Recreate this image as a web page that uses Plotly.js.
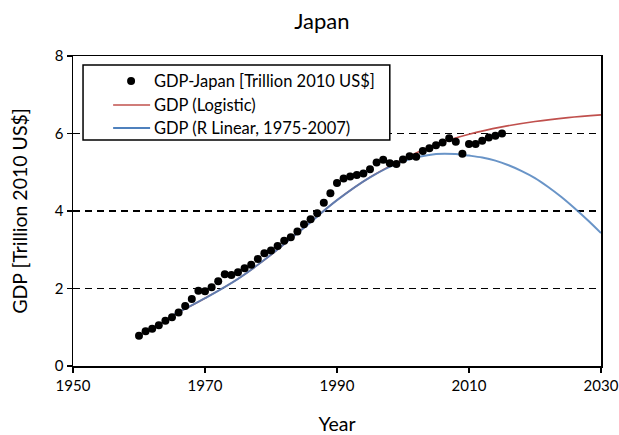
<!DOCTYPE html>
<html>
<head>
<meta charset="utf-8">
<script src="https://cdn.plot.ly/plotly-3.0.1.min.js"></script>
<style>
  html, body { margin: 0; padding: 0; background: #ffffff; }
  #chart { width: 619px; height: 435px; }
</style>
</head>
<body>
<div id="chart"></div>
<script>
// Observed Japanese GDP, trillion 2010 US$
const years = [1960, 1961, 1962, 1963, 1964, 1965, 1966, 1967, 1968, 1969,
               1970, 1971, 1972, 1973, 1974, 1975, 1976, 1977, 1978, 1979,
               1980, 1981, 1982, 1983, 1984, 1985, 1986, 1987, 1988, 1989,
               1990, 1991, 1992, 1993, 1994, 1995, 1996, 1997, 1998, 1999,
               2000, 2001, 2002, 2003, 2004, 2005, 2006, 2007, 2008, 2009,
               2010, 2011, 2012, 2013, 2014, 2015];
const gdp = [0.78, 0.90, 0.96, 1.05, 1.17, 1.26, 1.38, 1.55, 1.73, 1.94,
             1.93, 2.03, 2.19, 2.37, 2.35, 2.42, 2.52, 2.61, 2.76, 2.91,
             2.98, 3.10, 3.23, 3.32, 3.47, 3.66, 3.79, 3.94, 4.21, 4.46,
             4.72, 4.84, 4.89, 4.93, 4.97, 5.08, 5.25, 5.32, 5.23, 5.21,
             5.33, 5.41, 5.40, 5.55, 5.62, 5.70, 5.77, 5.88, 5.79, 5.48,
             5.73, 5.73, 5.81, 5.90, 5.94, 6.00];

// Logistic model curve
const logisticYears = [1965, 1970, 1975, 1980, 1985, 1990, 1995, 2000, 2005, 2010, 2015, 2020, 2025, 2030];
const gdpLogistic   = [1.30, 1.75, 2.25, 2.87, 3.57, 4.28, 4.87, 5.33, 5.72, 5.98, 6.17, 6.31, 6.41, 6.48];

// R-linear model curve (fit on 1975-2007)
const rLinearYears = [1965, 1970, 1975, 1980, 1985, 1990, 1995, 2000, 2005, 2008, 2010,
                      2012, 2014, 2016, 2018, 2020, 2022, 2024, 2026, 2028, 2030];
const gdpRLinear   = [1.30, 1.75, 2.25, 2.87, 3.57, 4.28, 4.87, 5.28, 5.47, 5.47, 5.43,
                      5.38, 5.30, 5.18, 5.03, 4.85, 4.62, 4.36, 4.07, 3.76, 3.43];

const seriesNames = ['GDP-Japan [Trillion 2010 US$]', 'GDP (Logistic)', 'GDP (R Linear, 1975-2007)'];
const xTicks = [1950, 1970, 1990, 2010, 2030];
const yTicks = [0, 2, 4, 6, 8];

const RED = '#c0504d';
const BLUE = '#4f81bd';
const FONT = 'Lato, "Open Sans", sans-serif';

const traces = [
  {
    x: logisticYears, y: gdpLogistic, name: seriesNames[1],
    type: 'scatter', mode: 'lines',
    line: { color: RED, width: 1.6, shape: 'spline' },
    showlegend: false, hoverinfo: 'skip'
  },
  {
    x: rLinearYears, y: gdpRLinear, name: seriesNames[2],
    type: 'scatter', mode: 'lines',
    line: { color: BLUE, width: 2, shape: 'spline' },
    opacity: 0.85,
    showlegend: false, hoverinfo: 'skip'
  },
  {
    x: years, y: gdp, name: seriesNames[0],
    type: 'scatter', mode: 'markers',
    marker: { color: '#000000', size: 8 },
    showlegend: false
  }
];

// Legend box drawn in paper coordinates
const lgX0 = 0.019, lgX1 = 0.600, lgTop = 0.971, lgBot = 0.729;
const rowY = [0.919, 0.842, 0.768];
const symX0 = 0.076, symX1 = 0.146, dotX = 0.110, textX = 0.150;

const shapes = [
  { type: 'rect', xref: 'paper', yref: 'paper', x0: lgX0, x1: lgX1, y0: lgBot, y1: lgTop,
    line: { color: '#000000', width: 1.5 }, fillcolor: '#ffffff', layer: 'above' },
  { type: 'circle', xref: 'paper', yref: 'paper', xsizemode: 'pixel', ysizemode: 'pixel',
    xanchor: dotX, yanchor: rowY[0], x0: -4, x1: 4, y0: -4, y1: 4,
    fillcolor: '#000000', line: { width: 0 }, layer: 'above' },
  { type: 'line', xref: 'paper', yref: 'paper', x0: symX0, x1: symX1, y0: rowY[1], y1: rowY[1],
    line: { color: RED, width: 1.6 }, layer: 'above' },
  { type: 'line', xref: 'paper', yref: 'paper', x0: symX0, x1: symX1, y0: rowY[2], y1: rowY[2],
    line: { color: BLUE, width: 2 }, layer: 'above' }
];

const annotations = seriesNames.map((name, i) => ({
  xref: 'paper', yref: 'paper', x: textX, y: rowY[i],
  xanchor: 'left', yanchor: 'middle', showarrow: false,
  text: name, font: { family: FONT, size: 16.5, color: '#000000' }
}));

const layout = {
  width: 619, height: 435,
  margin: { l: 73, r: 18, t: 56, b: 69 },
  paper_bgcolor: '#ffffff', plot_bgcolor: '#ffffff',
  font: { family: FONT, size: 15, color: '#000000' },
  title: {
    text: 'Japan', x: 0.52, xanchor: 'center', y: 0.95, yanchor: 'middle',
    font: { family: FONT, size: 22, color: '#000000' }
  },
  xaxis: {
    range: [1950, 2030], tickvals: xTicks, ticktext: xTicks.map(String),
    showgrid: false, zeroline: false,
    showline: true, linecolor: '#000000', linewidth: 1.5, mirror: true,
    ticks: 'outside', ticklen: 5, tickwidth: 1.5, tickcolor: '#000000',
    tickfont: { family: FONT, size: 15 },
    title: { text: 'Year', font: { family: FONT, size: 19.5 }, standoff: 25 }
  },
  yaxis: {
    range: [0, 8], tickvals: yTicks, ticktext: yTicks.map(String),
    showgrid: true, gridcolor: '#000000', gridwidth: 1.3, griddash: '7px,5px',
    zeroline: false,
    showline: true, linecolor: '#000000', linewidth: 1.5, mirror: true,
    ticks: 'outside', ticklen: 5, tickwidth: 1.5, tickcolor: '#000000',
    tickfont: { family: FONT, size: 15 },
    title: { text: 'GDP [Trillion 2010 US$]', font: { family: FONT, size: 19.5 }, standoff: 22 }
  },
  shapes: shapes,
  annotations: annotations,
  showlegend: false
};

Plotly.newPlot('chart', traces, layout, { displayModeBar: false, staticPlot: true });
</script>
</body>
</html>
